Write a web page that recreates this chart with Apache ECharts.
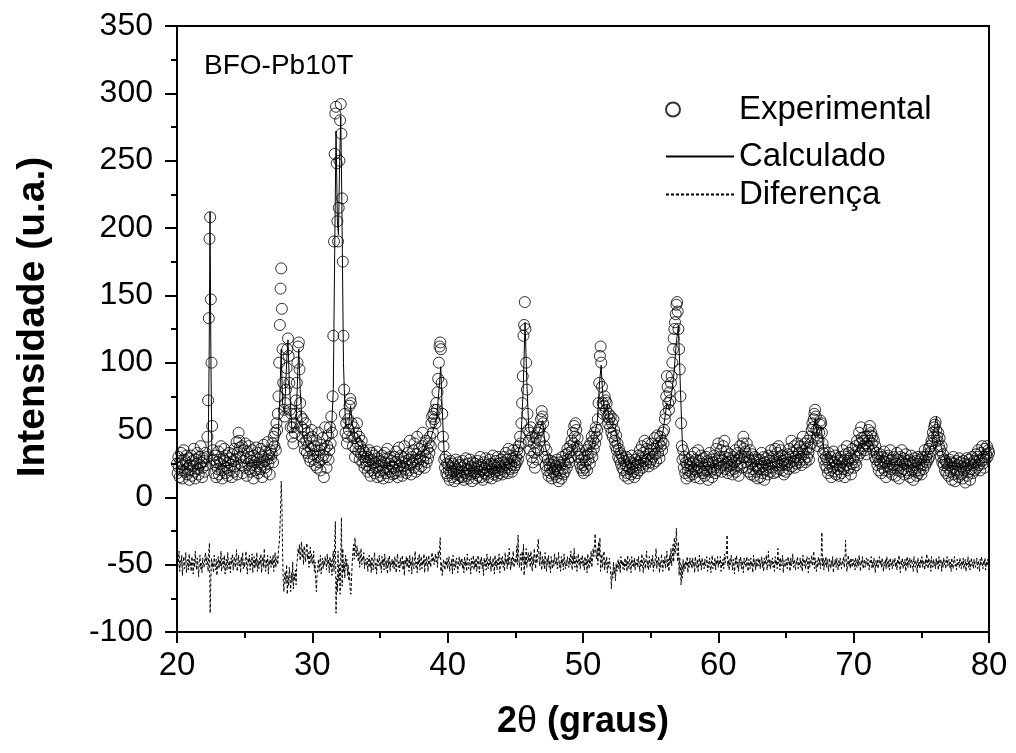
<!DOCTYPE html>
<html>
<head>
<meta charset="utf-8">
<script src="https://cdn.jsdelivr.net/npm/echarts@6/dist/echarts.min.js"></script>
<style>html,body{margin:0;padding:0;background:#fff}#c{width:1016px;height:753px}</style>
</head>
<body>
<div id="c"></div>
<script>
// 2θ sampling grid of the experimental / difference data
const thetaStart = 20;
const thetaStep = 0.05;

// Experimental intensities, one row per degree (20.00 … 20.95, 21.00 …), last value 80.00
const experimental = [
25,18,30,22,15,27,33,20,14,24,35,28,19,26,31,17,22,29,13,24,
20,31,16,27,23,36,19,14,28,25,33,21,17,30,24,38,26,15,22,29,
27,19,33,24,30,45,72,133,192,208,147,100,53,35,28,18,31,24,15,26,
21,34,17,28,25,38,20,14,29,23,36,27,18,31,22,16,26,33,20,29,
24,15,32,27,19,36,23,28,41,17,33,48,42,37,30,24,38,18,27,35,
22,40,29,16,34,25,38,21,30,19,27,35,24,14,31,26,20,37,23,28,
18,33,26,21,36,24,15,30,39,27,22,34,19,28,41,25,31,17,35,29,
32,40,26,45,38,48,35,55,50,62,75,100,128,155,170,140,110,85,65,60,
70,80,96,110,118,105,85,65,52,62,45,52,40,55,48,62,72,85,100,112,
115,95,70,60,52,45,58,40,50,35,55,42,33,48,38,30,44,27,36,50,
45,32,28,38,24,35,42,22,30,48,26,35,20,39,28,44,31,15,36,52,
30,22,38,46,28,35,52,40,60,48,75,120,190,255,285,290,248,205,190,215,
250,280,292,270,222,175,120,80,62,48,55,40,45,58,50,68,73,70,55,45,
38,52,44,30,36,48,55,40,34,45,28,38,32,42,26,35,30,22,33,27,
24,30,19,27,35,22,16,28,33,20,25,31,18,26,22,34,15,29,23,19,
27,16,24,31,20,14,26,33,22,18,29,36,21,15,25,30,19,27,23,17,
22,30,18,26,34,20,15,28,37,24,19,31,26,16,23,29,38,21,27,18,
25,33,20,28,42,24,17,30,26,35,22,40,28,19,32,45,25,21,36,28,
30,23,38,48,27,34,22,31,42,26,36,29,40,33,45,38,55,60,48,62,
58,65,55,70,65,78,88,100,112,115,110,85,62,45,38,28,22,30,18,25,
16,24,20,13,27,18,22,15,25,19,12,23,28,17,21,14,26,19,24,16,
22,15,27,19,13,24,18,29,16,21,25,14,20,28,17,23,12,26,19,22,
18,25,14,21,27,16,23,19,30,15,24,20,13,26,18,22,29,17,24,20,
15,23,28,19,25,14,21,31,17,24,19,27,22,16,30,20,25,18,23,28,
21,17,26,30,19,24,33,22,28,18,36,25,21,31,24,19,29,35,22,27,
24,30,26,35,28,38,33,45,40,55,70,90,120,128,145,125,100,80,62,50,
42,48,35,52,30,45,26,40,33,22,44,37,28,48,35,50,42,52,58,64,
60,55,45,38,30,24,35,20,28,16,25,22,18,27,14,24,19,26,21,17,
23,15,28,20,12,26,18,24,14,30,21,17,27,19,25,32,22,36,28,33,
26,38,30,42,35,48,40,53,45,55,50,38,44,30,35,25,32,22,28,20,
24,18,30,22,27,35,20,32,28,38,25,40,33,45,30,42,36,48,40,52,
45,50,58,70,85,105,112,100,82,70,62,68,75,72,65,70,60,55,62,58,
52,60,48,55,45,58,50,42,38,46,35,40,30,36,28,33,25,31,22,29,
20,27,16,24,30,18,23,14,28,21,26,17,31,22,19,25,15,28,21,24,
18,26,31,20,35,24,29,38,22,33,27,42,30,25,36,28,40,23,32,26,
35,28,40,30,25,36,44,32,27,38,46,33,40,29,45,38,42,35,48,40,
50,58,62,75,90,82,70,65,78,72,85,90,100,110,118,125,130,136,143,145,
138,125,110,95,75,55,38,28,35,22,30,18,26,14,24,20,28,16,25,19,
23,30,17,26,21,33,15,28,24,19,35,22,27,14,31,20,25,18,29,22,
16,24,30,20,27,13,25,33,19,22,28,15,26,21,31,18,24,36,20,27,
40,25,30,22,35,19,28,38,24,42,30,21,34,26,18,29,23,32,20,27,
24,17,30,21,26,35,19,28,23,33,16,29,38,25,31,22,40,45,36,30,
34,26,40,22,30,19,28,35,17,25,32,21,27,16,30,23,19,28,14,24,
21,28,15,25,33,18,23,30,13,26,20,29,24,17,31,22,27,19,35,25,
22,30,18,27,36,24,19,33,26,38,21,29,35,24,31,20,27,17,25,30,
19,28,24,32,21,36,26,30,42,23,33,27,38,22,30,25,35,40,28,33,
26,38,30,24,35,45,32,28,40,26,36,30,42,33,28,37,45,40,50,55,
52,58,62,65,60,50,44,38,42,48,54,57,55,48,40,33,28,35,24,30,
22,28,18,33,25,20,30,15,27,22,34,19,26,31,17,24,29,21,16,27,
23,30,18,26,35,21,28,15,32,24,38,20,27,33,22,29,17,25,36,28,
22,31,26,38,24,42,30,35,48,40,33,52,44,36,42,38,45,35,40,32,
45,38,50,42,53,46,48,40,45,35,42,30,38,28,33,24,30,20,27,32,
25,18,30,22,27,34,20,26,15,29,23,31,19,25,35,21,28,17,24,30,
22,27,16,25,33,20,28,14,24,30,19,35,26,21,29,17,25,32,20,27,
23,18,28,15,25,31,20,26,13,24,29,19,27,16,22,30,18,25,20,28,
17,24,30,21,27,35,24,30,26,32,28,36,30,38,34,42,40,48,45,52,
54,56,50,45,42,48,38,44,35,30,38,26,32,24,28,20,27,18,25,22,
16,24,28,19,26,13,22,30,17,25,12,21,27,18,24,15,29,20,26,17,
23,14,27,20,25,11,22,29,16,24,19,28,13,25,21,30,18,24,27,20,
26,32,22,30,35,24,28,20,33,27,38,25,30,22,36,28,32,38,30,35,
33
];

// Difference curve (shifted, as plotted), same 2θ grid
const difference = [
-45,-52,-48,-40,-55,-47,-50,-43,-58,-49,-44,-53,-47,-41,-56,-50,-46,-54,-42,-51,
-48,-55,-44,-50,-57,-46,-52,-40,-49,-54,-45,-51,-59,-47,-43,-53,-49,-56,-45,-50,
-52,-46,-41,-50,-44,-47,-55,-40,-34,-86,-62,-45,-52,-48,-56,-43,-50,-54,-46,-58,
-49,-44,-53,-47,-51,-40,-55,-48,-45,-52,-43,-57,-50,-46,-54,-41,-49,-53,-47,-56,
-45,-50,-42,-54,-48,-44,-52,-46,-39,-55,-49,-43,-51,-47,-56,-44,-50,-41,-53,-48,
-52,-46,-40,-51,-57,-45,-49,-43,-54,-47,-50,-42,-56,-48,-44,-53,-46,-51,-41,-55,
-47,-53,-45,-50,-42,-56,-48,-44,-52,-38,-49,-55,-46,-51,-43,-57,-47,-50,-44,-52,
-46,-50,-43,-55,-48,-41,-52,-47,-44,-50,-38,-35,-25,-10,12,-5,-40,-62,-70,-58,
-55,-64,-50,-72,-58,-66,-52,-60,-70,-56,-63,-48,-68,-57,-61,-54,-65,-50,-45,-38,
-42,-35,-47,-40,-33,-45,-38,-50,-36,-43,-48,-39,-34,-46,-41,-52,-44,-37,-49,-42,
-45,-50,-40,-55,-48,-62,-70,-58,-52,-46,-55,-49,-43,-57,-51,-45,-53,-47,-50,-44,
-48,-54,-42,-50,-46,-56,-44,-52,-47,-58,-45,-40,-55,-35,-18,-86,-60,-70,-40,-62,
-50,-72,-45,-15,-66,-38,-55,-48,-60,-43,-52,-46,-58,-50,-62,-55,-69,-72,-60,-48,
-40,-35,-46,-30,-38,-44,-36,-42,-48,-40,-52,-45,-38,-50,-44,-47,-41,-53,-46,-49,
-51,-45,-55,-48,-43,-52,-47,-56,-44,-50,-54,-46,-41,-53,-49,-57,-45,-51,-47,-43,
-52,-48,-56,-44,-50,-46,-54,-42,-49,-53,-47,-57,-45,-51,-43,-55,-48,-50,-46,-52,
-47,-53,-44,-50,-56,-46,-42,-52,-48,-55,-45,-51,-49,-43,-54,-47,-58,-46,-50,-44,
-52,-45,-49,-55,-43,-51,-47,-57,-44,-50,-53,-46,-40,-52,-48,-56,-45,-50,-42,-54,
-48,-44,-53,-47,-50,-42,-56,-46,-51,-44,-49,-55,-43,-50,-47,-52,-45,-41,-48,-44,
-50,-46,-42,-48,-44,-52,-40,-45,-38,-30,-55,-48,-58,-52,-46,-50,-54,-47,-51,-45,
-53,-48,-44,-55,-49,-51,-46,-57,-43,-50,-54,-47,-52,-45,-49,-56,-48,-44,-51,-47,
-50,-45,-53,-48,-56,-44,-51,-47,-55,-42,-50,-53,-46,-49,-57,-45,-52,-48,-43,-54,
-47,-52,-45,-55,-49,-43,-51,-56,-46,-50,-44,-53,-48,-58,-45,-51,-47,-54,-42,-50,
-53,-46,-50,-44,-55,-48,-52,-45,-49,-57,-43,-51,-47,-54,-46,-50,-42,-56,-48,-45,
-50,-44,-52,-47,-55,-41,-49,-46,-53,-43,-50,-38,-48,-54,-45,-51,-44,-40,-52,-47,
-45,-49,-36,-50,-28,-44,-52,-46,-42,-55,-40,-48,-35,-58,-44,-50,-38,-52,-46,-41,
-48,-43,-52,-40,-47,-55,-44,-50,-38,-46,-53,-42,-49,-36,-31,-45,-51,-40,-47,-54,
-44,-50,-46,-53,-41,-48,-55,-45,-50,-43,-52,-47,-56,-44,-49,-53,-46,-51,-42,-48,
-50,-45,-53,-47,-41,-52,-48,-55,-44,-50,-46,-54,-42,-49,-53,-47,-51,-44,-48,-52,
-45,-50,-40,-47,-54,-43,-49,-38,-52,-46,-44,-55,-48,-42,-50,-46,-53,-45,-49,-43,
-51,-47,-54,-44,-50,-46,-56,-42,-48,-53,-45,-49,-40,-52,-47,-38,-44,-35,-27,-42,
-46,-38,-50,-33,-44,-30,-55,-48,-42,-52,-46,-40,-54,-47,-50,-44,-56,-48,-52,-45,
-50,-58,-68,-55,-60,-48,-57,-52,-62,-49,-55,-51,-46,-53,-48,-56,-44,-50,-47,-53,
-48,-54,-45,-51,-47,-55,-43,-50,-53,-46,-49,-56,-44,-51,-47,-52,-45,-54,-48,-50,
-46,-52,-44,-49,-55,-47,-51,-42,-50,-56,-45,-48,-53,-46,-40,-52,-47,-54,-44,-50,
-52,-46,-50,-43,-55,-48,-51,-45,-38,-53,-47,-50,-44,-56,-48,-52,-42,-49,-55,-46,
-50,-44,-53,-47,-40,-52,-46,-55,-43,-49,-38,-51,-45,-35,-48,-30,-42,-36,-23,-40,
-48,-33,-58,-45,-52,-65,-50,-60,-46,-55,-49,-53,-47,-51,-44,-56,-48,-52,-45,-50,
-47,-53,-45,-51,-48,-56,-44,-50,-52,-46,-55,-49,-43,-51,-47,-54,-45,-50,-48,-53,
-46,-51,-49,-44,-55,-48,-52,-45,-50,-56,-47,-43,-53,-49,-51,-45,-54,-47,-50,-44,
-52,-47,-50,-44,-55,-48,-51,-46,-53,-42,-49,-45,-40,-28,-51,-47,-54,-46,-50,-43,
-48,-54,-46,-51,-57,-45,-50,-43,-52,-48,-55,-46,-49,-44,-53,-47,-51,-56,-45,-50,
-47,-52,-44,-50,-55,-46,-49,-53,-45,-51,-48,-56,-43,-50,-47,-54,-46,-52,-48,-45,
-51,-46,-53,-48,-44,-52,-47,-55,-45,-50,-49,-43,-54,-48,-40,-51,-46,-53,-47,-50,
-45,-52,-48,-55,-44,-50,-47,-53,-38,-49,-46,-54,-45,-51,-48,-43,-56,-47,-50,-52,
-46,-50,-53,-44,-49,-47,-55,-45,-51,-48,-42,-52,-46,-50,-54,-47,-49,-44,-53,-48,
-50,-45,-52,-47,-55,-43,-49,-51,-46,-53,-48,-44,-50,-56,-45,-52,-47,-49,-43,-51,
-48,-40,-53,-45,-50,-55,-47,-52,-44,-50,-46,-53,-46,-26,-51,-45,-54,-47,-50,-44,
-52,-46,-50,-55,-45,-49,-53,-47,-51,-44,-56,-48,-50,-46,-52,-45,-49,-54,-47,-51,
-45,-50,-53,-47,-49,-44,-52,-48,-32,-46,-55,-50,-43,-51,-47,-53,-45,-49,-52,-46,
-50,-47,-54,-45,-49,-52,-46,-51,-43,-48,-55,-47,-50,-44,-53,-49,-46,-52,-48,-45,
-51,-46,-50,-54,-47,-49,-44,-53,-48,-52,-45,-50,-56,-47,-51,-46,-53,-49,-44,-50,
-47,-52,-45,-50,-55,-48,-51,-46,-53,-44,-49,-52,-47,-54,-45,-50,-48,-53,-46,-51,
-49,-45,-52,-48,-54,-46,-50,-43,-51,-56,-47,-50,-45,-53,-48,-51,-46,-55,-49,-44,
-52,-47,-50,-45,-53,-48,-46,-51,-55,-44,-49,-52,-47,-50,-56,-45,-51,-48,-53,-46,
-50,-44,-52,-47,-49,-54,-46,-51,-42,-48,-53,-45,-50,-47,-55,-44,-49,-52,-46,-51,
-48,-53,-45,-50,-47,-54,-44,-51,-49,-46,-55,-48,-52,-45,-50,-47,-53,-49,-44,-51,
-50,-46,-52,-48,-55,-45,-50,-53,-47,-44,-51,-49,-54,-46,-50,-48,-52,-45,-49,-53,
-47,-51,-45,-53,-49,-46,-55,-48,-50,-44,-52,-47,-54,-49,-45,-51,-48,-53,-46,-50,
-52,-48,-45,-53,-47,-50,-55,-46,-51,-44,-49,-53,-47,-50,-45,-54,-48,-51,-46,-50,
-49
];

// Calculated (fitted) profile: vertices of the line
const calcTheta = [20,21,22,22.3,22.38,22.44,22.5,22.58,23,24,24.6,25,26,27,27.45,27.6,27.7,27.8,27.95,28.1,28.2,28.3,28.5,28.8,28.93,29.0,29.1,29.3,29.7,30.3,31,31.4,31.55,31.65,31.75,31.85,31.93,32.02,32.1,32.18,32.3,32.45,32.7,32.83,32.95,33.2,33.5,34,35,36,37,38,38.8,39.2,39.4,39.49,39.58,39.75,40,41,42,43,44,45,45.4,45.58,45.72,45.85,46.0,46.3,46.8,47.02,47.2,47.6,48.5,49.2,49.5,49.9,50.6,51.05,51.22,51.34,51.45,51.6,51.8,52.0,52.4,52.7,53.2,54,54.7,55.5,55.9,56.2,56.4,56.7,56.9,57.05,57.2,57.35,57.6,58.5,59.5,60.2,60.6,61,61.8,62.4,63.5,64.5,65.5,66.4,66.9,67.15,67.35,67.6,67.8,68.2,69,69.6,70.4,70.9,71.3,71.7,72.3,73.5,74.5,75.3,75.8,76.02,76.12,76.3,76.6,77,78,79,79.7,80];
const calcIntensity = [21,21,22,26,110,212,110,28,23,24,28,25,26,29,38,75,110,70,62,100,117,85,48,55,95,110,80,45,36,34,36,45,80,180,272,205,195,250,283,220,100,52,55,68,55,42,45,30,23,24,27,32,45,60,85,97,70,30,22,20,20,21,23,27,40,80,130,85,50,40,50,57,38,24,23,36,42,33,36,55,85,98,78,62,68,55,50,33,24,27,32,38,48,70,65,90,115,128,80,38,25,23,23,27,30,25,33,26,24,28,30,34,44,58,45,52,35,26,24,28,38,40,42,32,25,24,23,27,40,55,60,45,32,24,22,25,34,32];

// Axis ticks
const xTicks = {min: 20, max: 80, interval: 10};
const yTicks = {min: -100, max: 350, interval: 50};

const seriesNames = ['Experimental', 'Calculado', 'Diferença'];

const gridX = (i) => +(thetaStart + i * thetaStep).toFixed(2);
const expPoints = experimental.map((v, i) => [gridX(i), v]);
const diffPoints = difference.map((v, i) => [gridX(i), v]);
const calcPoints = calcTheta.map((t, i) => [t, calcIntensity[i]]);

const FONT = "'Liberation Sans', Arial, sans-serif";
const chart = echarts.init(document.getElementById('c'), null, {renderer: 'canvas'});

const legendText = {fontSize: 33, color: '#000', fontFamily: FONT};

chart.setOption({
  animation: false,
  backgroundColor: '#fff',
  title: {
    text: 'BFO-Pb10T', left: 199, top: 47,
    textStyle: {fontSize: 28, fontWeight: 'normal', color: '#000', fontFamily: FONT}
  },
  legend: [
    {data: [seriesNames[0]], left: 665, top: 93, itemWidth: 14, itemHeight: 14, padding: 0,
     textStyle: Object.assign({padding: [0, 0, 0, 54]}, legendText), selectedMode: false},
    {data: [seriesNames[1]], left: 665, top: 140, itemWidth: 68, itemHeight: 14, padding: 0,
     itemStyle: {opacity: 0}, textStyle: legendText, selectedMode: false},
    {data: [seriesNames[2]], left: 665, top: 178, itemWidth: 68, itemHeight: 14, padding: 0,
     itemStyle: {opacity: 0}, textStyle: legendText, selectedMode: false}
  ],
  grid: {left: 177, right: 27, top: 26, bottom: 121, show: true, borderColor: '#000', borderWidth: 2, containLabel: false},
  xAxis: {
    type: 'value', min: xTicks.min, max: xTicks.max, interval: xTicks.interval,
    name: '{b|2}{t|θ}{b| (graus)}', nameLocation: 'middle', nameGap: 72,
    nameTextStyle: {rich: {
      b: {fontSize: 36, fontWeight: 'bold', color: '#000', fontFamily: FONT},
      t: {fontSize: 36, fontWeight: 'normal', color: '#000', fontFamily: FONT}
    }},
    axisLine: {show: true, onZero: false, lineStyle: {color: '#000', width: 2}},
    axisTick: {show: true, inside: false, length: 11, lineStyle: {color: '#000', width: 2}},
    minorTick: {show: true, splitNumber: 2, length: 6, lineStyle: {color: '#000', width: 2}},
    axisLabel: {fontSize: 33, color: '#000', fontFamily: FONT, margin: 17},
    splitLine: {show: false}
  },
  yAxis: {
    type: 'value', min: yTicks.min, max: yTicks.max, interval: yTicks.interval,
    name: 'Intensidade (u.a.)', nameLocation: 'middle', nameGap: 124,
    nameTextStyle: {fontSize: 39, fontWeight: 'bold', color: '#000', fontFamily: FONT, padding: [0, 0, 0, 24]},
    axisLine: {show: true, onZero: false, lineStyle: {color: '#000', width: 2}},
    axisTick: {show: true, inside: false, length: 12, lineStyle: {color: '#000', width: 2}},
    minorTick: {show: true, splitNumber: 2, length: 6, lineStyle: {color: '#000', width: 2}},
    axisLabel: {fontSize: 32, color: '#000', fontFamily: FONT, margin: 24},
    splitLine: {show: false}
  },
  series: [
    {
      name: seriesNames[0], type: 'scatter', data: expPoints,
      symbol: 'circle', symbolSize: 11,
      itemStyle: {color: 'rgba(255,255,255,0)', borderColor: '#000', borderWidth: 1},
      emphasis: {disabled: true}, z: 2
    },
    {
      name: seriesNames[1], type: 'line', data: calcPoints,
      showSymbol: false, symbol: 'none',
      lineStyle: {color: '#000', width: 1}, itemStyle: {color: '#000'},
      emphasis: {disabled: true}, z: 3
    },
    {
      name: seriesNames[2], type: 'line', data: diffPoints,
      showSymbol: false, symbol: 'none',
      lineStyle: {color: '#000', width: 1, type: [3, 2]}, itemStyle: {color: '#000'},
      emphasis: {disabled: true}, z: 3
    }
  ]
});
</script>
</body>
</html>
